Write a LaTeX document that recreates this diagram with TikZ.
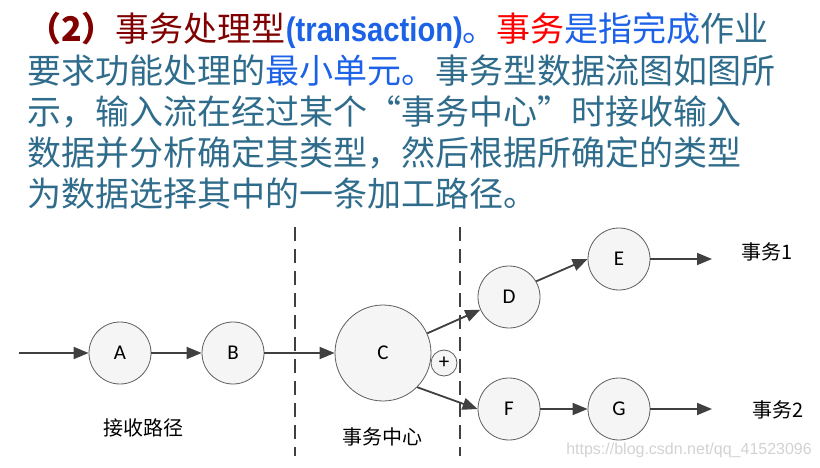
\documentclass[tikz,border=0pt]{standalone}
\usepackage{fontspec}
\setmainfont{Noto Sans CJK SC}
\newfontfamily\latinofont{Liberation Sans}
\newfontfamily\letterafont{Carlito}
\usetikzlibrary{arrows.meta}
\definecolor{testoblu}{RGB}{47,108,140}
\definecolor{blu}{RGB}{28,98,232}
\definecolor{rossoscuro}{RGB}{128,0,0}
\definecolor{grigiofreccia}{RGB}{64,64,64}
\tikzstyle{riga} = [anchor=west, inner sep=0pt, text=testoblu,
    font=\fontsize{34}{34}\selectfont]
\tikzstyle{cerchio} = [circle, draw=grigiofreccia!85, line width=0.8pt,
    fill=gray!8, minimum size=62pt, inner sep=0pt,
    font=\letterafont\fontsize{21}{21}\selectfont]
\tikzstyle{freccia} = [-{Triangle[length=15pt,width=12pt]},
    line width=1.8pt, draw=grigiofreccia]
\tikzstyle{confine} = [dash pattern=on 14pt off 8pt, line width=1.6pt,
    draw=grigiofreccia]
\tikzstyle{etichetta} = [inner sep=0pt, font=\fontsize{20}{20}\selectfont]

\begin{document}
\begin{tikzpicture}[x=1pt,y=-1pt]
  \useasboundingbox (0,0) rectangle (820,468);
  % testo
  \node [riga] (riga1) at (27,30) {{\color{rossoscuro}\bfseries （2）}{\color{rossoscuro}事务处理型}{\color{blu}\latinofont\bfseries\fontsize{34}{34}\selectfont\scalebox{0.86}[1]{(transaction)}}{\color{blu}。}{\color{red}事务}{\color{blu}是指完成}作业};
  \node [riga] (riga2) at (27,71) {要求功能处理的{\color{blu}最小单元。}事务型数据流图如图所};
  \node [riga] (riga3) at (27,112) {示，输入流在经过某个“事务中心”时接收输入};
  \node [riga] (riga4) at (27,153) {数据并分析确定其类型，然后根据所确定的类型};
  \node [riga] (riga5) at (27,194) {为数据选择其中的一条加工路径。};

  % confini
  \coordinate (conf1a) at (295,227);
  \coordinate (conf1b) at (295,456);
  \coordinate (conf2a) at (460,227);
  \coordinate (conf2b) at (460,456);
  \draw [confine] (conf1a) -- (conf1b);
  \draw [confine] (conf2a) -- (conf2b);

  \node [cerchio] (A) at (120,353) {A};
  \node [cerchio] (B) at (233,353) {B};
  \node [cerchio, minimum size=96pt] (C) at (383,353) {C};
  \node [cerchio, minimum size=26pt] (piu) at (444,363) {+};
  \node [cerchio] (D) at (509,297) {D};
  \node [cerchio] (E) at (619,259) {E};
  \node [cerchio] (F) at (509,409) {F};
  \node [cerchio] (G) at (619,409) {G};
  \coordinate (ingresso) at (19,353);
  \coordinate (uscita1) at (712,259);
  \coordinate (uscita2) at (712,409);

  \draw [freccia] (ingresso) -- (A);
  \draw [freccia] (A) -- (B);
  \draw [freccia] (B) -- (C);
  \draw [freccia] (C) -- (D);
  \draw [freccia] (C.south east) -- (F.west);
  \draw [freccia] (D.30) -- (E.west);
  \draw [freccia] (F) -- (G);
  \draw [freccia] (E) -- (uscita1);
  \draw [freccia] (G) -- (uscita2);

  \node [etichetta] (ricezione) at (143,428) {接收路径};
  \node [etichetta] (centro) at (382,437) {事务中心};
  \node [etichetta] (tr1) at (767,252) {事务1};
  \node [etichetta] (tr2) at (778,410) {事务2};
  \node [anchor=east, inner sep=0pt, text=gray!35, font=\latinofont\fontsize{16}{16}\selectfont] (sito) at (812,450) {https://blog.csdn.net/qq\_41523096};
\end{tikzpicture}
\end{document}
